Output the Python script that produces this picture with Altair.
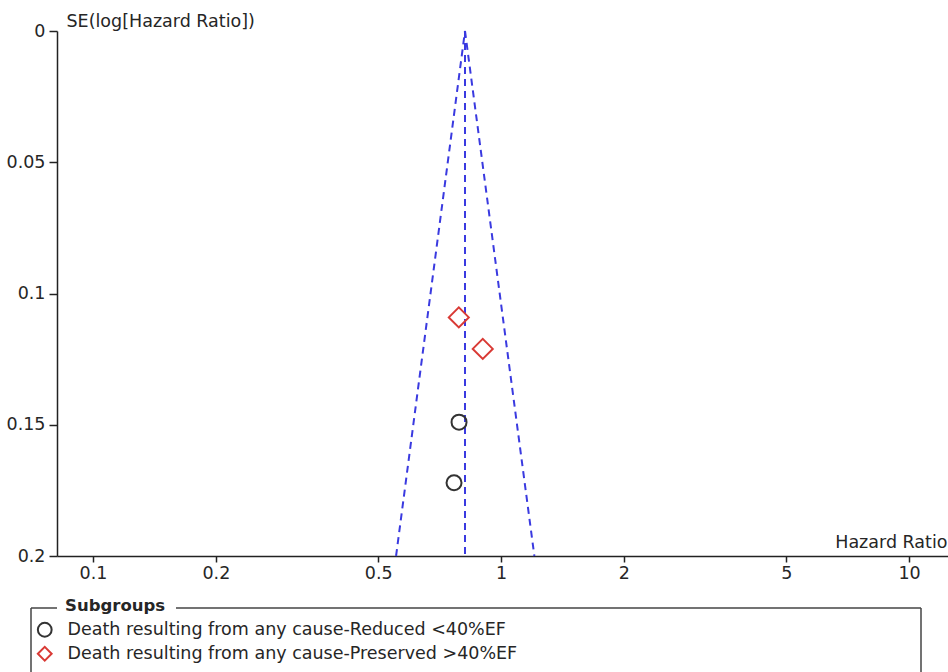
import altair as alt
import pandas as pd

# ---- data ----
groups = ["Death resulting from any cause-Reduced <40%EF",
          "Death resulting from any cause-Preserved >40%EF"]
reduced_hr = [0.789, 0.767]
reduced_se = [0.149, 0.1721]
preserved_hr = [0.788, 0.902]
preserved_se = [0.1091, 0.1211]

funnel_names = ["left", "centre", "right"]
funnel_se = [0.0, 0.2]
funnel_left_hr = [0.816, 0.553]
funnel_centre_hr = [0.816, 0.816]
funnel_right_hr = [0.816, 1.207]

x_ticks = [0.1, 0.2, 0.5, 1, 2, 5, 10]
y_ticks = [0, 0.05, 0.1, 0.15, 0.2]
x_domain = [0.0816, 12.46]
y_domain = [0, 0.2]
legend_title = "Subgroups"
x_title = "Hazard Ratio"
y_title = "SE(log[Hazard Ratio])"

# ---- tables ----
pts = pd.DataFrame({
    "hr": reduced_hr + preserved_hr,
    "se": reduced_se + preserved_se,
    "group": [groups[0]] * len(reduced_hr) + [groups[1]] * len(preserved_hr),
})
rows = []
for name, hrs in zip(funnel_names, [funnel_left_hr, funnel_centre_hr, funnel_right_hr]):
    for h, s in zip(hrs, funnel_se):
        rows.append({"line": name, "hr": h, "se": s})
funnel = pd.DataFrame(rows)

FONT = "DejaVu Sans"
FS = 17.5
TXT = "#262626"
W, H = 891, 525

x_scale = alt.Scale(type="log", domain=x_domain, nice=False)
y_scale = alt.Scale(domain=y_domain, reverse=True, nice=False, zero=False)

x_axis = alt.Axis(values=x_ticks, format="~g", title=x_title, titleX=890, titleY=-9,
                  titleAlign="right", titleBaseline="alphabetic", titleFontWeight="normal",
                  grid=False, tickSize=6, labelPadding=2, labelFlush=False)
y_axis = alt.Axis(values=y_ticks, format=".2~f", title=y_title, titleAngle=0, titleX=9,
                  titleY=-5, titleAlign="left", titleBaseline="alphabetic",
                  titleFontWeight="normal", grid=False, tickSize=8, labelPadding=4,
                  labelFlush=False)

lines = alt.Chart(funnel).mark_line(strokeDash=[7, 5], strokeWidth=2, color="#3a3ae0").encode(
    x=alt.X("hr:Q", scale=x_scale, axis=x_axis),
    y=alt.Y("se:Q", scale=y_scale, axis=y_axis),
    detail="line:N",
)

def make_legend():
    return alt.Legend(title=None, orient="none", legendX=-21, legendY=590,
                      symbolSize=190, symbolStrokeWidth=2,
                      labelFontSize=FS, labelFont=FONT, labelColor=TXT,
                      labelLimit=1000, rowPadding=1, labelOffset=14, padding=0)

points = alt.Chart(pts).mark_point(filled=False, strokeWidth=2, opacity=1).encode(
    x=alt.X("hr:Q", scale=x_scale),
    y=alt.Y("se:Q", scale=y_scale),
    shape=alt.Shape("group:N", scale=alt.Scale(domain=groups, range=["circle", "diamond"]),
                    legend=make_legend()),
    color=alt.Color("group:N", scale=alt.Scale(domain=groups, range=["#333333", "#d93a35"]),
                    legend=make_legend()),
    size=alt.condition(alt.datum.group == groups[1], alt.value(400), alt.value(225)),
)

title_df = pd.DataFrame({"t": [legend_title]})
leg_title = alt.Chart(title_df).mark_text(align="left", baseline="alphabetic", font=FONT,
                                          fontSize=16.5, fontWeight="bold", color=TXT).encode(
    x=alt.value(8), y=alt.value(580), text="t:N")

BOX = "#444444"
def rule(x, x2, y, y2):
    return alt.Chart(title_df).mark_rule(color=BOX, strokeWidth=1.5).encode(
        x=alt.value(x), x2=alt.value(x2), y=alt.value(y), y2=alt.value(y2))

box = [rule(-26, 0, 577, 577), rule(119, 864, 577, 577),
       rule(-26, -26, 577, 700), rule(864, 864, 577, 700)]

chart = alt.layer(lines, points, leg_title, *box).properties(
    width=W, height=H,
    autosize=alt.AutoSizeParams(type="none"),
    padding={"left": 57, "top": 31, "right": 0, "bottom": 116},
).configure_view(strokeWidth=0).configure_axis(
    domainColor="#222222", domainWidth=1.5, tickColor="#222222", tickWidth=1.5,
    labelFont=FONT, labelFontSize=FS, labelColor=TXT,
    titleFont=FONT, titleFontSize=FS, titleColor=TXT,
)

chart.save("out.html", embed_options={"renderer": "svg", "actions": False})
